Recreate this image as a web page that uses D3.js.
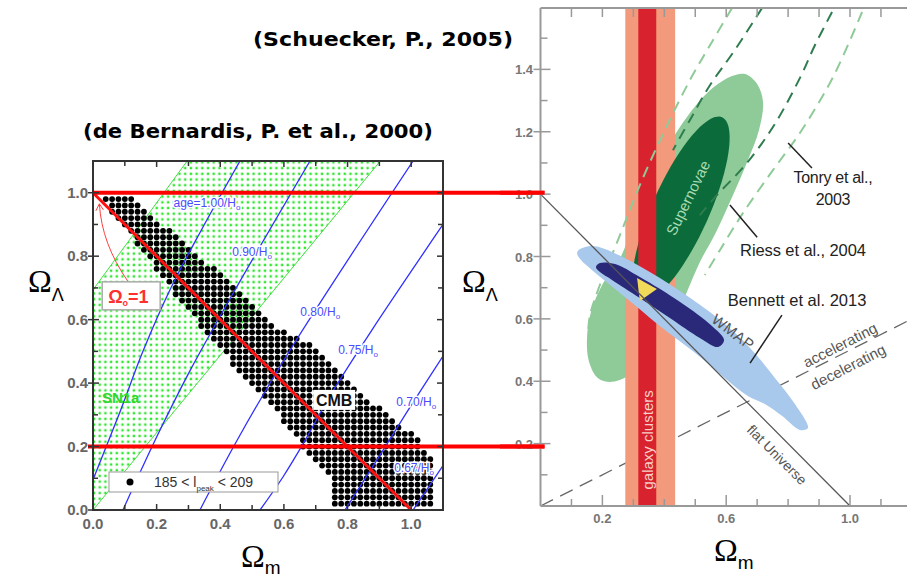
<!DOCTYPE html>
<html lang="en">
<head>
<meta charset="UTF-8">
<title>Omega_m vs Omega_Lambda</title>
<script src="https://cdnjs.cloudflare.com/ajax/libs/d3/7.8.5/d3.min.js"></script>
<style>
  body { margin: 0; background: #fff; }
  svg { display: block; }
</style>
</head>
<body>
<svg width="907" height="581"></svg>
<script>
// ---------- left panel data (de Bernardis 2000) ----------
const sn1aRegion = [[0, 0], [0.903, 1.1], [0.296, 1.1], [0, 0.694]];

const ageNames = ["age=1.00/H", "0.90/H", "0.80/H", "0.75/H", "0.70/H", "0.67/H"];
const ageCurves = [
  [[0, 0.095], [0.085, 0.31], [0.157, 0.5], [0.242, 0.694], [0.336, 0.874], [0.462, 1.1]],
  [[0.094, 0], [0.2, 0.23], [0.3, 0.43], [0.45, 0.7], [0.682, 1.1]],
  [[0.336, 0], [0.453, 0.22], [0.62, 0.505], [1.006, 1.1]],
  [[0.525, 0], [0.597, 0.104], [0.667, 0.22], [0.745, 0.36], [0.877, 0.568], [1.1, 0.9]],
  [[0.792, 0], [0.9, 0.17], [1.0, 0.33], [1.1, 0.485]],
  [[1.006, 0], [1.1, 0.14]]
];
const ageLabelAt = [[0.358, 0.968], [0.5, 0.814], [0.714, 0.625], [0.833, 0.505], [1.016, 0.341], [1.009, 0.132]];

// CMB allowed region (185 < l_peak < 209), sampled on a grid
const cmbRegion = [
  [0.02, 0.985], [0.125, 0.985], [0.2, 0.915], [0.314, 0.825], [0.462, 0.68], [0.58, 0.58],
  [0.7, 0.51], [0.85, 0.365], [0.95, 0.28], [1.025, 0.225], [1.065, 0.155], [1.08, 0.06], [1.08, 0.01],
  [0.76, 0.01], [0.76, 0.1], [0.675, 0.17], [0.63, 0.24], [0.53, 0.36], [0.44, 0.46],
  [0.37, 0.54], [0.27, 0.665], [0.155, 0.815], [0.07, 0.925]
];
const cmbStep = 0.02;

const redLevels = [1.0, 0.2];

// ---------- right panel data (Schuecker 2005) ----------
const clusterOuter = [0.274, 0.435];
const clusterInner = [0.316, 0.374];
const snOuter = [
  [0.661, 1.385], [0.7, 1.353], [0.719, 1.295], [0.706, 1.206], [0.67, 1.109], [0.622, 0.997],
  [0.567, 0.878], [0.515, 0.782], [0.473, 0.686], [0.425, 0.58], [0.37, 0.484], [0.305, 0.43],
  [0.231, 0.398], [0.186, 0.41], [0.157, 0.462], [0.15, 0.532], [0.163, 0.622], [0.2, 0.71],
  [0.255, 0.79], [0.3, 0.9], [0.345, 1.013], [0.405, 1.141], [0.478, 1.254], [0.556, 1.34], [0.619, 1.379]
];
// ellipse: centre x, centre y, semi-major, semi-minor, angle (deg)
const snInner = [0.454, 0.952, 0.323, 0.092, 65.7];

const wmapOuter = [
  [0.128, 0.824], [0.166, 0.834], [0.208, 0.824], [0.321, 0.769], [0.451, 0.689], [0.58, 0.596],
  [0.677, 0.507], [0.758, 0.41], [0.822, 0.327], [0.864, 0.25], [0.838, 0.244], [0.78, 0.289],
  [0.725, 0.327], [0.67, 0.353], [0.596, 0.41], [0.499, 0.491], [0.402, 0.564], [0.305, 0.644],
  [0.225, 0.709], [0.166, 0.757], [0.131, 0.789], [0.118, 0.811]
];
const wmapInner = [
  [0.192, 0.779], [0.241, 0.776], [0.321, 0.734], [0.451, 0.654], [0.554, 0.577], [0.593, 0.532],
  [0.574, 0.51], [0.515, 0.539], [0.418, 0.603], [0.321, 0.667], [0.231, 0.725], [0.192, 0.75], [0.179, 0.766]
];
const overlap = [[0.312, 0.731], [0.376, 0.696], [0.321, 0.657]];

const tonryLeft = [[0.619, 1.597], [0.554, 1.488], [0.483, 1.366], [0.402, 1.206], [0.321, 1.029], [0.257, 0.869], [0.192, 0.709], [0.16, 0.612], [0.153, 0.548]];
const tonryRight = [[1.039, 1.584], [0.945, 1.375], [0.838, 1.196], [0.751, 1.077], [0.654, 0.939], [0.58, 0.821], [0.531, 0.741]];
const riessLeft = [[0.716, 1.597], [0.628, 1.462], [0.548, 1.35], [0.483, 1.238], [0.428, 1.141]];
const riessRight = [[0.942, 1.584], [0.887, 1.478], [0.838, 1.372], [0.751, 1.215], [0.661, 1.093], [0.57, 0.997], [0.515, 0.933]];

const flatLine = [[0, 1], [1, 0]];
const accelLine = [[0, 0], [1.2, 0.6]];

const leaders = [
  [[0.8, 1.164], [0.877, 1.084]],
  [[0.612, 0.965], [0.7, 0.862]],
  [[0.78, 0.612], [0.677, 0.458]]
];

// ---------- setup ----------
const svg = d3.select("svg");
svg.append("rect").attr("width", 907).attr("height", 581).attr("fill", "#fff");
const defs = svg.append("defs");

const xL = d3.scaleLinear().domain([0, 1.1]).range([93, 443]);
const yL = d3.scaleLinear().domain([0, 1.1]).range([510, 161]);
const xR = d3.scaleLinear().domain([0, 1]).range([540.5, 850]);
const yR = d3.scaleLinear().domain([0, 1.6]).range([506, 7]);

const pat = defs.append("pattern").attr("id", "sndots")
  .attr("patternUnits", "userSpaceOnUse").attr("width", 5.7).attr("height", 5.7);
pat.append("rect").attr("x", 1.6).attr("y", 1.6).attr("width", 2.4).attr("height", 2.4).attr("fill", "#2fe62f");

defs.append("clipPath").attr("id", "clipL").append("rect")
  .attr("x", xL(0)).attr("y", yL(1.1)).attr("width", xL(1.1) - xL(0)).attr("height", yL(0) - yL(1.1));
defs.append("clipPath").attr("id", "clipR").append("rect")
  .attr("x", xR(0)).attr("y", 8).attr("width", 907 - xR(0)).attr("height", yR(0) - 8);

const lineL = d3.line().x(d => xL(d[0])).y(d => yL(d[1]));
const curveL = d3.line().x(d => xL(d[0])).y(d => yL(d[1])).curve(d3.curveCatmullRom);
const lineR = d3.line().x(d => xR(d[0])).y(d => yR(d[1]));
const smoothR = d3.line().x(d => xR(d[0])).y(d => yR(d[1])).curve(d3.curveCatmullRomClosed);
const openR = d3.line().x(d => xR(d[0])).y(d => yR(d[1])).curve(d3.curveCatmullRom);

// ---------- left panel ----------
const gL = svg.append("g").attr("clip-path", "url(#clipL)");

gL.append("path").attr("d", lineL(sn1aRegion) + "Z").attr("fill", "url(#sndots)");
gL.append("path").attr("d", lineL([sn1aRegion[0], sn1aRegion[1]]))
  .attr("stroke", "#44dd44").attr("stroke-width", 1).attr("fill", "none");
gL.append("path").attr("d", lineL([sn1aRegion[3], sn1aRegion[2]]))
  .attr("stroke", "#44dd44").attr("stroke-width", 1).attr("fill", "none");

const cmbDots = [];
for (let i = 1; i * cmbStep < 1.1; i++) {
  for (let j = 1; j * cmbStep < 1.0; j++) {
    const p = [i * cmbStep, j * cmbStep];
    if (d3.polygonContains(cmbRegion, p)) cmbDots.push(p);
  }
}
gL.selectAll("circle.cmb").data(cmbDots).join("circle")
  .attr("class", "cmb").attr("cx", d => xL(d[0])).attr("cy", d => yL(d[1]))
  .attr("r", 2.9).attr("fill", "#000");

gL.selectAll("path.age").data(ageCurves).join("path")
  .attr("class", "age").attr("d", d => curveL(d))
  .attr("fill", "none").attr("stroke", "#3030ff").attr("stroke-width", 1.3);

const ageText = gL.selectAll("text.age").data(ageNames).join("text")
  .attr("class", "age")
  .attr("x", (d, i) => xL(ageLabelAt[i][0]))
  .attr("y", (d, i) => yL(ageLabelAt[i][1]) + 4)
  .attr("text-anchor", "middle")
  .attr("font-family", "Liberation Sans, Arial, sans-serif")
  .attr("font-size", 12).attr("fill", "#4a4aff")
  .attr("stroke", "#fff").attr("stroke-width", 3).attr("paint-order", "stroke");
ageText.append("tspan").text(d => d);
ageText.append("tspan").attr("font-size", 8).attr("dy", 3).text("o");

// CMB label
const cmbAt = [0.758, 0.347];
svg.append("rect").attr("x", xL(cmbAt[0]) - 21).attr("y", yL(cmbAt[1]) - 10)
  .attr("width", 42).attr("height", 20).attr("fill", "#fff");
svg.append("text").attr("x", xL(cmbAt[0])).attr("y", yL(cmbAt[1]) + 6)
  .attr("text-anchor", "middle").attr("font-family", "Liberation Sans, Arial, sans-serif")
  .attr("font-size", 16).attr("font-weight", "bold").attr("fill", "#111").text("CMB");

// SN1a label
svg.append("text").attr("x", xL(0.028)).attr("y", yL(0.356) + 6)
  .attr("font-family", "Liberation Sans, Arial, sans-serif")
  .attr("font-size", 15).attr("font-weight", "bold").attr("fill", "#2ed62e").text("SN1a");

// red lines
svg.append("path").attr("d", lineL(flatLine))
  .attr("stroke", "#ff1010").attr("stroke-width", 3).attr("fill", "none");
svg.selectAll("line.red").data(redLevels).join("line")
  .attr("class", "red")
  .attr("x1", d => d === 1 ? xL(0) : xL(0) - 5).attr("x2", xR(0) + 4)
  .attr("y1", d => yL(d)).attr("y2", d => yL(d))
  .attr("stroke", "#ff0000").attr("stroke-width", 4);

// Omega_0 = 1 annotation
svg.append("path")
  .attr("d", `M${xL(0.11)},${yL(0.72)} C${xL(0.055)},${yL(0.8)} ${xL(0.025)},${yL(0.88)} ${xL(0.02)},${yL(0.965)}`)
  .attr("fill", "none").attr("stroke", "#ff4040").attr("stroke-width", 1);
svg.append("path")
  .attr("d", `M${xL(0.02) - 3.5},${yL(0.965) + 7} L${xL(0.02)},${yL(0.965)} L${xL(0.02) + 4},${yL(0.965) + 6}`)
  .attr("fill", "none").attr("stroke", "#ff4040").attr("stroke-width", 1);
const o0 = [0.12, 0.675];
svg.append("rect").attr("x", xL(o0[0]) - 29).attr("y", yL(o0[1]) - 14)
  .attr("width", 58).attr("height", 28).attr("fill", "#fff")
  .attr("stroke", "#aaa").attr("stroke-width", 1.5);
const o0t = svg.append("text").attr("x", xL(o0[0]) - 23).attr("y", yL(o0[1]) + 7)
  .attr("font-family", "Liberation Sans, Arial, sans-serif")
  .attr("font-size", 18).attr("font-weight", "bold").attr("fill", "#ff3030");
o0t.append("tspan").text("\u03A9");
o0t.append("tspan").attr("font-size", 9).attr("dy", 3).text("o");
o0t.append("tspan").attr("dy", -3).text("=1");

// legend
svg.append("rect").attr("x", 109).attr("y", 472).attr("width", 169).attr("height", 20)
  .attr("fill", "#fff").attr("stroke", "#999").attr("stroke-width", 1);
svg.append("circle").attr("cx", 130).attr("cy", 482).attr("r", 3.5).attr("fill", "#000");
const lg = svg.append("text").attr("x", 154).attr("y", 487)
  .attr("font-family", "Liberation Sans, Arial, sans-serif").attr("font-size", 14).attr("fill", "#333");
lg.append("tspan").text("185 < l");
lg.append("tspan").attr("font-size", 8).attr("dy", 4).text("peak");
lg.append("tspan").attr("dy", -4).text(" < 209");

// left frame + ticks
svg.append("rect").attr("x", xL(0)).attr("y", yL(1.1))
  .attr("width", xL(1.1) - xL(0)).attr("height", yL(0) - yL(1.1))
  .attr("fill", "none").attr("stroke", "#333").attr("stroke-width", 2);
const tickVals = d3.range(0, 11).map(i => i / 10);
const tk = svg.append("g").attr("stroke", "#333").attr("stroke-width", 1.5);
tickVals.forEach((v, i) => {
  const len = i % 2 === 0 ? 6 : 5;
  tk.append("line").attr("x1", xL(v)).attr("x2", xL(v)).attr("y1", yL(0)).attr("y2", yL(0) - len);
  tk.append("line").attr("x1", xL(v)).attr("x2", xL(v)).attr("y1", yL(1.1)).attr("y2", yL(1.1) + len);
  tk.append("line").attr("y1", yL(v)).attr("y2", yL(v)).attr("x1", xL(0) - (i % 2 === 0 ? 5 : 0)).attr("x2", xL(0) + len);
  tk.append("line").attr("y1", yL(v)).attr("y2", yL(v)).attr("x1", xL(1.1)).attr("x2", xL(1.1) - len);
});
const leftLabels = [0, 0.2, 0.4, 0.6, 0.8, 1.0];
svg.selectAll("text.lx").data(leftLabels).join("text").attr("class", "lx")
  .attr("x", d => xL(d)).attr("y", 529).attr("text-anchor", "middle")
  .attr("font-family", "Liberation Sans, Arial, sans-serif").attr("font-size", 15)
  .attr("font-weight", "bold").attr("fill", "#666").text(d => d.toFixed(1));
svg.selectAll("text.ly").data(leftLabels).join("text").attr("class", "ly")
  .attr("x", 88).attr("y", d => yL(d) + 5).attr("text-anchor", "end")
  .attr("font-family", "Liberation Sans, Arial, sans-serif").attr("font-size", 15)
  .attr("font-weight", "bold").attr("fill", "#666").text(d => d.toFixed(1));

// ---------- right panel ----------
const gR = svg.append("g").attr("clip-path", "url(#clipR)");

function ellipsePts(e) {
  const [cx, cy, a, b, ang] = e;
  const t = ang * Math.PI / 180;
  return d3.range(0, 72).map(k => {
    const p = k / 72 * 2 * Math.PI;
    return [cx + a * Math.cos(t) * Math.cos(p) - b * Math.sin(t) * Math.sin(p),
            cy + a * Math.sin(t) * Math.cos(p) + b * Math.cos(t) * Math.sin(p)];
  });
}

gR.append("path").attr("d", lineR(accelLine))
  .attr("stroke", "#666").attr("stroke-width", 1.3).attr("stroke-dasharray", "14,8").attr("fill", "none");
gR.append("path").attr("d", smoothR(snOuter)).attr("fill", "#8fcb98");
gR.append("rect").attr("x", xR(clusterOuter[0])).attr("width", xR(clusterOuter[1]) - xR(clusterOuter[0]))
  .attr("y", yR(1.6)).attr("height", yR(0) - yR(1.6)).attr("fill", "#f29a7b");
gR.append("path").attr("d", lineR(ellipsePts(snInner)) + "Z").attr("fill", "#0b6b3a");
gR.append("rect").attr("x", xR(clusterInner[0])).attr("width", xR(clusterInner[1]) - xR(clusterInner[0]))
  .attr("y", yR(1.6)).attr("height", yR(0) - yR(1.6)).attr("fill", "#d8232e");

[[tonryLeft, "#8fcb98"], [tonryRight, "#8fcb98"], [riessLeft, "#2f7d4f"], [riessRight, "#2f7d4f"]].forEach(([pts, c]) => {
  gR.append("path").attr("d", openR(pts)).attr("fill", "none")
    .attr("stroke", c).attr("stroke-width", 2).attr("stroke-dasharray", "11,7");
});

gR.append("path").attr("d", smoothR(wmapOuter)).attr("fill", "#a8c8ec");
gR.append("path").attr("d", smoothR(wmapInner)).attr("fill", "#2a2878");
gR.append("path").attr("d", lineR(overlap) + "Z").attr("fill", "#f1da5a");
gR.append("path").attr("d", lineR(flatLine))
  .attr("stroke", "#555").attr("stroke-width", 1.3).attr("fill", "none");

gR.selectAll("path.leader").data(leaders).join("path").attr("class", "leader")
  .attr("d", d => lineR(d)).attr("stroke", "#222").attr("stroke-width", 1.5);

function rText(txt, at, opts) {
  return gR.append("text")
    .attr("transform", `translate(${xR(at[0])},${yR(at[1])}) rotate(${opts.rot || 0})`)
    .attr("text-anchor", "middle").attr("dy", "0.35em")
    .attr("font-family", "Liberation Sans, Arial, sans-serif")
    .attr("font-size", opts.size || 15).attr("fill", opts.fill || "#222")
    .attr("letter-spacing", opts.ls || 0).text(txt);
}
rText("Tonry et al.,", [0.945, 1.055], { size: 16, ls: -0.3 });
rText("2003", [0.945, 0.984], { size: 16, ls: -0.3 });
rText("Riess et al., 2004", [0.848, 0.821], { size: 16.5, ls: -0.1 });
rText("Bennett et al. 2013", [0.829, 0.66], { size: 16.5, ls: 0 });
rText("WMAP", [0.622, 0.558], { size: 15, rot: 37, fill: "#555", ls: 0.5 });
rText("accelerating", [0.968, 0.516], { size: 15, rot: -27, fill: "#555" });
rText("decelerating", [0.994, 0.446], { size: 15, rot: -27, fill: "#555" });
rText("flat Universe", [0.764, 0.164], { size: 14, rot: 45, fill: "#555" });
rText("Supernovae", [0.477, 0.988], { size: 15, rot: -64, fill: "#a9dcb3" });
rText("galaxy clusters", [0.345, 0.212], { size: 15, rot: -90, fill: "#f8d0c8" });

// right axes
const ax = svg.append("g").attr("stroke", "#999").attr("stroke-width", 2);
ax.append("line").attr("x1", xR(0)).attr("x2", xR(0)).attr("y1", 8).attr("y2", yR(0));
ax.append("line").attr("x1", xR(0)).attr("x2", 907).attr("y1", yR(0)).attr("y2", yR(0));
ax.append("line").attr("x1", xR(0)).attr("x2", 907).attr("y1", 8).attr("y2", 8);
d3.range(1, 16).forEach(i => {
  const v = i / 10, major = i % 2 === 0;
  ax.append("line").attr("y1", yR(v)).attr("y2", yR(v))
    .attr("x1", xR(0) - (major ? 7 : 0)).attr("x2", xR(0) + (major ? 10 : 7)).attr("stroke-width", 1.5);
});
d3.range(1, 12).forEach(i => {
  const v = i / 10, major = i % 4 === 2;
  ax.append("line").attr("x1", xR(v)).attr("x2", xR(v))
    .attr("y1", yR(0)).attr("y2", yR(0) - (major ? 11 : 7)).attr("stroke-width", 1.5);
  ax.append("line").attr("x1", xR(v)).attr("x2", xR(v))
    .attr("y1", 8).attr("y2", 8 + 9).attr("stroke-width", 1.5);
});
const rightY = [0.2, 0.4, 0.6, 0.8, 1.0, 1.2, 1.4];
svg.selectAll("text.ry").data(rightY).join("text").attr("class", "ry")
  .attr("x", 533).attr("y", d => yR(d) + 5).attr("text-anchor", "end")
  .attr("font-family", "Liberation Sans, Arial, sans-serif").attr("font-size", 13)
  .attr("font-weight", "bold").attr("fill", "#777").text(d => d.toFixed(1));
const rightX = [0.2, 0.6, 1.0];
svg.selectAll("text.rx").data(rightX).join("text").attr("class", "rx")
  .attr("x", d => xR(d)).attr("y", 523).attr("text-anchor", "middle")
  .attr("font-family", "Liberation Sans, Arial, sans-serif").attr("font-size", 13)
  .attr("font-weight", "bold").attr("fill", "#777").text(d => d.toFixed(1));

// red lines over the right axis labels
svg.selectAll("line.red2").data(redLevels).join("line").attr("class", "red2")
  .attr("x1", 500).attr("x2", xR(0) + 4)
  .attr("y1", d => yL(d)).attr("y2", d => yL(d))
  .attr("stroke", "#ff0000").attr("stroke-width", 4);

// ---------- axis titles and headings ----------
function omega(x, y, sub, subFont, subDy) {
  const t = svg.append("text").attr("x", x).attr("y", y)
    .attr("font-family", "Liberation Serif, Times New Roman, serif").attr("font-size", 32).attr("fill", "#000");
  t.append("tspan").text("\u03A9");
  t.append("tspan").attr("font-family", "Liberation Sans, Arial, sans-serif")
    .attr("font-size", subFont).attr("dy", subDy).text(sub);
}
omega(28, 292, "\u039B", 18, 9);
omega(241, 567, "m", 19, 7);
omega(462, 292, "\u039B", 18, 9);
omega(714, 561, "m", 19, 8);

svg.append("text").attr("x", 83).attr("y", 138)
  .attr("font-family", "DejaVu Sans, sans-serif").attr("font-weight", "bold").attr("font-size", 19)
  .attr("textLength", 350).attr("lengthAdjust", "spacingAndGlyphs").attr("fill", "#000")
  .text("(de Bernardis, P. et al., 2000)");
svg.append("text").attr("x", 253).attr("y", 46)
  .attr("font-family", "DejaVu Sans, sans-serif").attr("font-weight", "bold").attr("font-size", 19)
  .attr("textLength", 260).attr("lengthAdjust", "spacingAndGlyphs").attr("fill", "#000")
  .text("(Schuecker, P., 2005)");
</script>
</body>
</html>
